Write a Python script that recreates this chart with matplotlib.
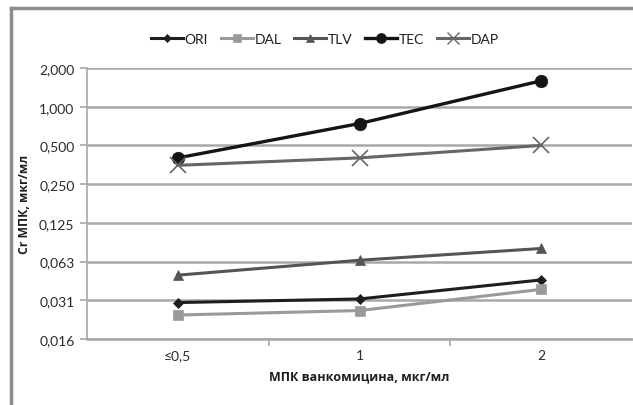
import matplotlib
matplotlib.use("Agg")
import matplotlib.pyplot as plt
from matplotlib.lines import Line2D
import numpy as np

categories = ["≤0,5", "1", "2"]
ORI = [0.030, 0.032, 0.045]
DAL = [0.024, 0.026, 0.038]
TLV = [0.049, 0.064, 0.079]
TEC = [0.40, 0.74, 1.59]
DAP = [0.35, 0.40, 0.50]
yticks = [0.015625, 0.03125, 0.0625, 0.125, 0.25, 0.5, 1.0, 2.0]
ytick_labels = ["0,016", "0,031", "0,063", "0,125", "0,250", "0,500", "1,000", "2,000"]

plt.rcParams['font.family'] = ['Lato', 'DejaVu Sans']

W, H = 633, 406
fig = plt.figure(figsize=(W/100, H/100), dpi=100)
ax = fig.add_axes([87/W, 1-340/H, (632-87)/W, (340-69)/H])

x = np.arange(len(categories))
series = [
    ("ORI", ORI, "#1e1e1e", "D", 5, 2.2),
    ("DAL", DAL, "#9a9a9a", "s", 7, 2.2),
    ("TLV", TLV, "#555555", "^", 7, 2.2),
    ("TEC", TEC, "#151515", "o", 9, 2.4),
    ("DAP", DAP, "#666666", "x", 11, 2.2),
]
handles = []
for name, vals, col, mk, ms, lw in series:
    ax.plot(x, vals, color=col, marker=mk, markersize=ms, linewidth=lw,
            markeredgewidth=1.2 if mk == "x" else 0.5, markeredgecolor=col,
            zorder=3, clip_on=False)
    handles.append(Line2D([0], [0], color=col, marker=mk, markersize=ms*0.8,
                          linewidth=lw, markeredgecolor=col,
                          markeredgewidth=1.0 if mk == "x" else 0.5))

ax.set_yscale("log", base=2)
ax.set_ylim(yticks[0], yticks[-1])
ax.set_yticks(yticks)
ax.set_yticklabels(ytick_labels)
ax.minorticks_off()
ax.set_xlim(-0.5, len(categories) - 0.5)
ax.set_xticks(x)
ax.set_xticklabels(categories)
ax.set_xticks(np.arange(0.5, len(categories) - 0.5), minor=True)

ax.grid(axis="y", color="#a8a8a8", linewidth=1.8, zorder=0)
for s in ["top", "right"]:
    ax.spines[s].set_visible(False)
ax.spines["left"].set_color("#a8a8a8")
ax.spines["left"].set_linewidth(1.2)
ax.spines["bottom"].set_color("#a8a8a8")
ax.spines["bottom"].set_linewidth(1.8)
ax.tick_params(axis="y", length=5, width=1.2, color="#a8a8a8", labelsize=10,
               labelcolor="#2a2a2a", pad=4)
ax.tick_params(axis="x", which="major", length=0, labelsize=10,
               labelcolor="#2a2a2a", pad=7)
ax.tick_params(axis="x", which="minor", length=5, width=1.2, color="#a8a8a8")

ax.set_xlabel("МПК ванкомицина, мкг/мл", fontsize=9, fontweight="bold",
              family=["Open Sans", "DejaVu Sans"], color="#1e1e1e", labelpad=6)
ax.set_ylabel("Cr МПК, мкг/мл", fontsize=8.7, fontweight="bold",
              family=["Open Sans", "DejaVu Sans"], color="#1e1e1e", labelpad=6)

fig.legend(handles, [s[0] for s in series], loc="center",
           bbox_to_anchor=(325/W, 1-40/H), ncol=5, frameon=False,
           fontsize=10, handlelength=2.3, columnspacing=0.9, handletextpad=0.15)
for t in fig.legends[0].get_texts():
    t.set_color("#1e1e1e")

# outer chart border (top and left visible)
fig.add_artist(Line2D([11/W, 1], [1-9/H, 1-9/H], transform=fig.transFigure,
                      color="#8c8c8c", linewidth=2.5))
fig.add_artist(Line2D([11/W, 11/W], [0, 1-9/H], transform=fig.transFigure,
                      color="#8c8c8c", linewidth=2.5))

fig.savefig("out.png", dpi=100)
